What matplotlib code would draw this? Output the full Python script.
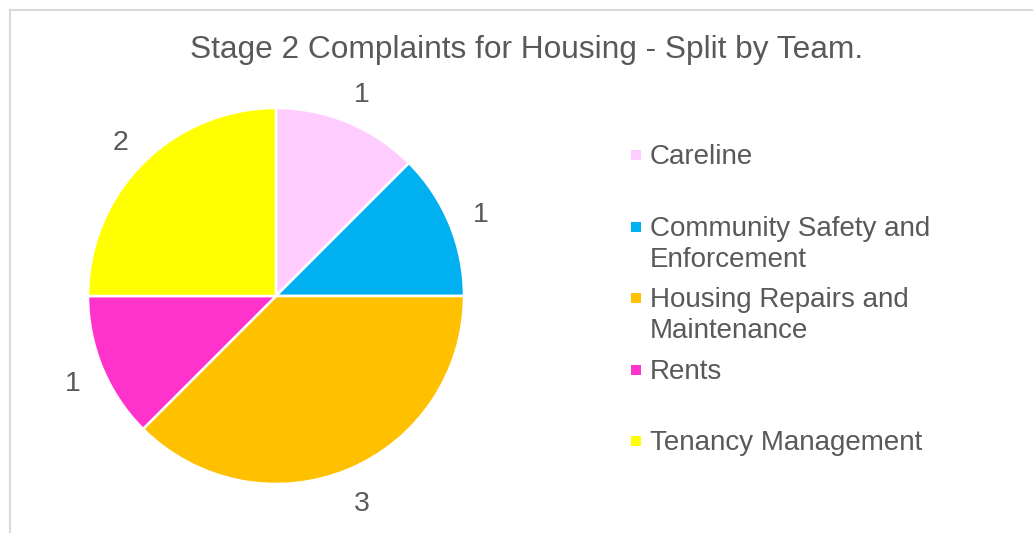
import matplotlib
matplotlib.use("Agg")
import matplotlib.pyplot as plt
from matplotlib.patches import Rectangle
from matplotlib.lines import Line2D
import numpy as np

categories = ["Careline", "Community Safety and Enforcement", "Housing Repairs and Maintenance", "Rents", "Tenancy Management"]
legend_labels = ["Careline", "Community Safety and\nEnforcement", "Housing Repairs and\nMaintenance", "Rents", "Tenancy Management"]
values = [1, 1, 3, 1, 2]
colors = ["#FFCCFF", "#00B0F0", "#FFC000", "#FF33CC", "#FFFF00"]
title = "Stage 2 Complaints for Housing - Split by Team."

W, H = 1033, 533
fig = plt.figure(figsize=(W / 100, H / 100), dpi=100)
FONT = "Liberation Sans"
TXT = "#595959"

def fx(x):
    return x / W

def fy(y):
    return 1 - y / H

# chart border (top and left visible)
fig.add_artist(Line2D([fx(9.5), 1], [fy(9.5), fy(9.5)], color="#D9D9D9", lw=1.5))
fig.add_artist(Line2D([fx(9.5), fx(9.5)], [fy(9.5), 0], color="#D9D9D9", lw=1.5))

cx, cy, r = 276, 296, 188
ax = fig.add_axes([fx(cx - r), fy(cy + r), 2 * r / W, 2 * r / H])
wedges, _ = ax.pie(values, colors=colors, startangle=90, counterclock=False,
                   wedgeprops=dict(edgecolor="white", linewidth=1.8))
ax.set_xlim(-1, 1)
ax.set_ylim(-1, 1)
ax.set_aspect("equal")
ax.axis("off")

for w, v in zip(wedges, values):
    ang = np.deg2rad((w.theta1 + w.theta2) / 2)
    d = 1.175
    ax.annotate(str(v), (d * np.cos(ang), d * np.sin(ang)), xytext=(1, -10.5),
                textcoords="offset pixels", ha="center", va="baseline",
                fontsize=20.5, family=FONT, color=TXT, annotation_clip=False)

fig.text(fx(527), fy(58), title, ha="center", va="baseline", fontsize=22.8,
         family=FONT, color=TXT)

# legend
y0, step, line_h = 164, 71.6, 31
for i, (lab, c) in enumerate(zip(legend_labels, colors)):
    yy = y0 + i * step
    fig.add_artist(Rectangle((fx(631), fy(yy - 4)), 10 / W, 10 / H, facecolor=c,
                             edgecolor="none", transform=fig.transFigure))
    for j, line in enumerate(lab.split("\n")):
        fig.text(fx(650), fy(yy + j * line_h), line, ha="left", va="baseline",
                 fontsize=20, family=FONT, color=TXT)

fig.savefig("out.png", dpi=100)
